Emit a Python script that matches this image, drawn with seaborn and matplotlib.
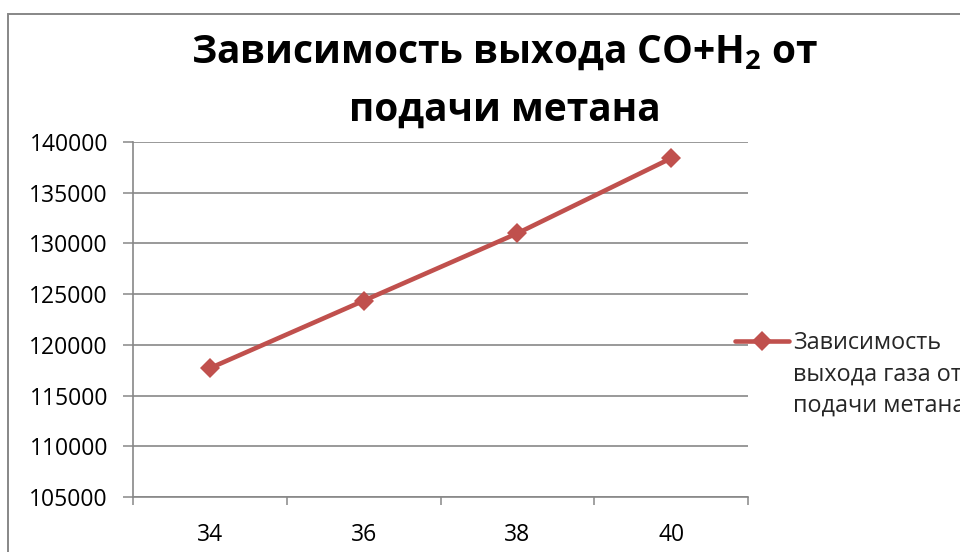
import matplotlib
matplotlib.use("Agg")
import matplotlib.pyplot as plt
import seaborn as sns
import pandas as pd
from matplotlib.patches import Rectangle
from matplotlib.ticker import FixedLocator

# Methane feed (categories) and CO+H2 output
methane_feed = ["34", "36", "38", "40"]
gas_output = [117700, 124350, 131000, 138400]
y_ticks = [105000, 110000, 115000, 120000, 125000, 130000, 135000, 140000]
series_label = "Зависимость\nвыхода газа от\nподачи метана"
title_line1 = r"Зависимость выхода CO+H$_\mathbf{2}$ от"
title_line2 = "подачи метана"

sns.set_theme(style="white")
plt.rcParams["font.family"] = ["Open Sans", "DejaVu Sans"]
plt.rcParams["mathtext.fontset"] = "custom"
plt.rcParams["mathtext.rm"] = "Open Sans"
plt.rcParams["mathtext.bf"] = "Open Sans:bold"

RED = "#C0504D"
GRID = "#878787"

df = pd.DataFrame({"feed": methane_feed, "output": gas_output})

fig = plt.figure(figsize=(9.6, 5.52), dpi=100)
ax = fig.add_axes([133 / 960, 1 - 497 / 552, (748 - 133) / 960, (497 - 142) / 552])

sns.lineplot(data=df, x="feed", y="output", sort=False, ax=ax, color=RED,
             linewidth=3.3, marker="D", markersize=10, markeredgewidth=0,
             label=series_label)

ax.set_xlim(-0.5, len(methane_feed) - 0.5)
ax.set_ylim(y_ticks[0], y_ticks[-1])
ax.set_yticks(y_ticks)
ax.set_yticklabels([str(v) for v in y_ticks])
ax.set_xlabel("")
ax.set_ylabel("")

# category labels centred, tick marks on the boundaries between categories
ax.set_xticks(range(len(methane_feed)))
ax.set_xticklabels(methane_feed)
ax.xaxis.set_minor_locator(FixedLocator([i - 0.5 for i in range(len(methane_feed) + 1)]))
ax.tick_params(axis="x", which="major", length=0, pad=19, labelsize=16.5, colors="black")
ax.tick_params(axis="x", which="minor", bottom=True, length=6, width=1.1, color=GRID, direction="out")
ax.tick_params(axis="y", which="major", left=True, length=7, width=1.1, color=GRID,
               direction="out", pad=11, labelsize=16.5, labelcolor="black")

ax.yaxis.grid(True, color=GRID, linewidth=1.2)
ax.xaxis.grid(False)
for side in ("top", "right"):
    ax.spines[side].set_visible(False)
for side in ("left", "bottom"):
    ax.spines[side].set_color(GRID)
    ax.spines[side].set_linewidth(1.2)

leg = ax.legend(loc="upper left", bbox_to_anchor=(735 / 960, 1 - 331 / 552),
                bbox_transform=fig.transFigure, frameon=False, fontsize=16.8,
                handlelength=2.3, handleheight=1.25, handletextpad=0.2,
                borderpad=0, borderaxespad=0, labelspacing=0.2)
for txt in leg.get_texts():
    txt.set_linespacing(1.42)
# keep the legend key level with the first line of its label
for column in leg._legend_handle_box.get_children():
    for row in column.get_children():
        row.align = "top"

fig.text(505 / 960, 1 - 52 / 552, title_line1, ha="center", va="center",
         fontsize=28, fontweight="bold", color="black")
fig.text(505 / 960, 1 - 110 / 552, title_line2, ha="center", va="center",
         fontsize=28, fontweight="bold", color="black")

# outer chart frame
fig.patches.append(Rectangle((8 / 960, -0.1), 1.2, 1.1 - 14 / 552,
                             transform=fig.transFigure, fill=False,
                             edgecolor=GRID, linewidth=1.4))

fig.savefig("out.png", dpi=100)
